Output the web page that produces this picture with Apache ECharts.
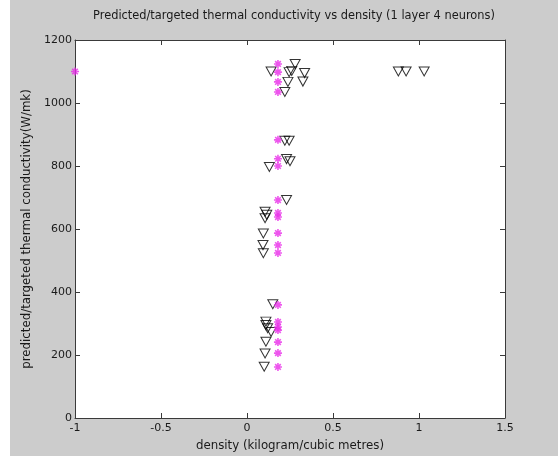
<!DOCTYPE html>
<html>
<head>
<meta charset="utf-8">
<script src="https://cdn.jsdelivr.net/npm/echarts@6/dist/echarts.min.js"></script>
<style>
  html, body { margin: 0; padding: 0; background: #ffffff; }
  #chart { width: 560px; height: 461px; }
</style>
</head>
<body>
<div id="chart"></div>
<script>
// Predicted thermal conductivity (magenta asterisks): [density, conductivity]
const predicted = [
  [-1.0, 1100],
  [0.18, 1124], [0.18, 1098], [0.18, 1067], [0.18, 1035],
  [0.18, 883],
  [0.18, 823], [0.18, 800],
  [0.18, 692],
  [0.18, 651], [0.18, 638],
  [0.18, 587], [0.18, 549], [0.18, 524],
  [0.18, 359],
  [0.18, 305], [0.18, 289], [0.18, 279],
  [0.18, 241], [0.18, 206], [0.18, 162]
];

// Targeted thermal conductivity (black triangles): [density, conductivity]
const targeted = [
  [0.14, 1100], [0.28, 1124], [0.245, 1098], [0.26, 1102], [0.335, 1095],
  [0.238, 1067], [0.325, 1068], [0.22, 1035],
  [0.22, 880], [0.245, 880],
  [0.13, 797], [0.23, 822], [0.25, 815],
  [0.23, 692],
  [0.105, 655], [0.115, 645], [0.105, 634],
  [0.095, 586], [0.093, 549], [0.095, 523],
  [0.15, 361],
  [0.11, 306], [0.11, 295], [0.12, 285], [0.14, 273],
  [0.11, 242], [0.105, 205], [0.10, 163],
  [0.88, 1100], [0.925, 1100], [1.03, 1100]
];

const xTicks = [-1, -0.5, 0, 0.5, 1, 1.5];
const yTicks = [0, 200, 400, 600, 800, 1000, 1200];

const FONT = '"DejaVu Sans", "Liberation Sans", Arial, sans-serif';
const AXIS_COLOR = '#3a3a3a';
const TEXT_COLOR = '#1a1a1a';

const chart = echarts.init(document.getElementById('chart'), null, { renderer: 'canvas' });

function boxAxis(base) {
  return Object.assign({
    axisLine: { show: true, onZero: false, lineStyle: { color: AXIS_COLOR, width: 1 } },
    axisTick: { show: true, inside: true, length: 5, lineStyle: { color: AXIS_COLOR } },
    splitLine: { show: false },
    axisLabel: { show: false }
  }, base);
}

chart.setOption({
  animation: false,
  backgroundColor: '#ffffff',
  graphic: [{
    type: 'rect',
    z: -10,
    silent: true,
    shape: { x: 10, y: 0, width: 548, height: 456 },
    style: { fill: '#cccccc' }
  }, {
    type: 'rect',
    z: -5,
    silent: true,
    shape: { x: 75, y: 40, width: 430, height: 378 },
    style: { fill: '#ffffff' }
  }],
  title: {
    text: 'Predicted/targeted thermal conductivity vs density (1 layer 4 neurons)',
    left: 289,
    top: 6,
    textAlign: 'center',
    textStyle: { fontFamily: FONT, fontSize: 11.4, fontWeight: 'normal', color: TEXT_COLOR }
  },
  grid: { left: 75, right: 55, top: 40, bottom: 43, containLabel: false },
  xAxis: [
    boxAxis({
      type: 'value', position: 'bottom',
      min: xTicks[0], max: xTicks[xTicks.length - 1], interval: 0.5,
      axisLabel: { show: true, margin: 5, color: TEXT_COLOR, fontFamily: FONT, fontSize: 11,
        formatter: v => String(v) },
      name: 'density (kilogram/cubic metres)',
      nameLocation: 'middle', nameGap: 22,
      nameTextStyle: { fontFamily: FONT, fontSize: 11.8, color: TEXT_COLOR }
    }),
    boxAxis({
      type: 'value', position: 'top',
      min: xTicks[0], max: xTicks[xTicks.length - 1], interval: 0.5
    })
  ],
  yAxis: [
    boxAxis({
      type: 'value', position: 'left',
      min: yTicks[0], max: yTicks[yTicks.length - 1], interval: 200,
      axisLabel: { show: true, margin: 3, color: TEXT_COLOR, fontFamily: FONT, fontSize: 11,
        formatter: v => String(v) },
      name: 'predicted/targeted thermal conductivity(W/mk)',
      nameLocation: 'middle', nameGap: 38,
      nameTextStyle: { fontFamily: FONT, fontSize: 11.8, color: TEXT_COLOR }
    }),
    boxAxis({
      type: 'value', position: 'right',
      min: yTicks[0], max: yTicks[yTicks.length - 1], interval: 200
    })
  ],
  series: [{
    name: 'targeted',
    type: 'scatter',
    xAxisIndex: 0, yAxisIndex: 0,
    data: targeted,
    symbol: 'path://M0,0 L10,0 L5,9 Z',
    symbolSize: [10, 9],
    itemStyle: { color: 'rgba(0,0,0,0)', borderColor: '#000000', borderWidth: 1 },
    z: 3
  }, {
    name: 'predicted',
    type: 'scatter',
    xAxisIndex: 0, yAxisIndex: 0,
    data: predicted,
    symbol: 'path://M5,0 L5,10 M0,5 L10,5 M1.5,1.5 L8.5,8.5 M8.5,1.5 L1.5,8.5',
    symbolSize: 8,
    itemStyle: { color: 'rgba(0,0,0,0)', borderColor: '#e82ce8', borderWidth: 1.6 },
    z: 4
  }]
});
</script>
</body>
</html>
